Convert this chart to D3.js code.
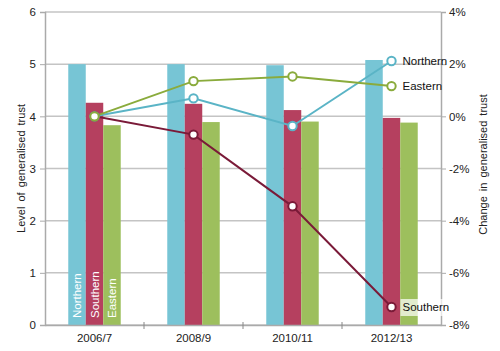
<!DOCTYPE html>
<html><head><meta charset="utf-8">
<script src="https://cdn.jsdelivr.net/npm/d3@7"></script>
<style>body{margin:0;background:#fff}svg{display:block}text{font-family:"Liberation Sans",Arial,sans-serif}</style>
</head><body><svg id="c" width="500" height="351"></svg>
<script>
const categories = ["2006/7","2008/9","2010/11","2012/13"];
const regions = ["Northern","Southern","Eastern"];
const levelNorthern = [5.00, 5.00, 4.98, 5.08];
const levelSouthern = [4.26, 4.24, 4.12, 3.97];
const levelEastern  = [3.83, 3.89, 3.90, 3.88];
const changeNorthern = [0, 0.69, -0.37, 2.12];
const changeSouthern = [0, -0.70, -3.45, -7.31];
const changeEastern  = [0, 1.35, 1.53, 1.16];
const leftTicks = [0,1,2,3,4,5,6];
const rightTicks = [-8,-6,-4,-2,0,2,4];

const barColors = {Northern:"#77c5d5", Southern:"#b5405f", Eastern:"#9dbf5d"};
const lineColors = {Northern:"#5ab4c6", Southern:"#7a1a38", Eastern:"#8aab3c"};
const levels = {Northern:levelNorthern, Southern:levelSouthern, Eastern:levelEastern};
const changes = {Northern:changeNorthern, Southern:changeSouthern, Eastern:changeEastern};

const svg = d3.select("#c");
const L=45, R=441, T=12, B=325;
const x = d3.scaleBand().domain(categories).range([L,R]).paddingInner(0.47).paddingOuter(0.235);
const xb = d3.scaleBand().domain(categories).range([L,R]);
const xs = d3.scaleBand().domain(regions).range([0,x.bandwidth()]);
const yL = d3.scaleLinear().domain([0,6]).range([B,T]);
const yR = d3.scaleLinear().domain([-8,4]).range([B,T]);

// gridlines
svg.append("g").selectAll("line").data(leftTicks).join("line")
  .attr("x1",L).attr("x2",R).attr("y1",d=>yL(d)).attr("y2",d=>yL(d))
  .attr("stroke","#c4c4c4").attr("stroke-width",1.5);

// bars
regions.forEach(r=>{
  svg.append("g").selectAll("rect").data(categories).join("rect")
    .attr("x",c=>x(c)+xs(r)).attr("width",xs.bandwidth())
    .attr("y",(c,i)=>yL(levels[r][i])).attr("height",(c,i)=>B-yL(levels[r][i]))
    .attr("fill",barColors[r]);
});
// bar inner labels (first group)
regions.forEach(r=>{
  const cx = x(categories[0])+xs(r)+xs.bandwidth()/2;
  svg.append("text").attr("transform",`translate(${cx+4},318) rotate(-90)`)
    .attr("fill","#fff").attr("font-size",11.5).text(r);
});

// axes
const axisColor="#aaa";
const gx = svg.append("g").attr("transform",`translate(0,${B})`)
  .call(d3.axisBottom(xb).tickSize(0).tickPadding(9));
gx.select(".domain").attr("stroke",axisColor).attr("stroke-width",1.5);
gx.selectAll("text").attr("font-size",11.5).attr("fill","#222");
svg.append("g").selectAll("line").data(categories.slice(1)).join("line")
  .attr("x1",c=>xb(c)).attr("x2",c=>xb(c)).attr("y1",B-3).attr("y2",B+4)
  .attr("stroke","#888");

const gl = svg.append("g").attr("transform",`translate(${L},0)`)
  .call(d3.axisLeft(yL).tickValues(leftTicks).tickSize(5).tickPadding(4).tickFormat(d3.format("d")));
gl.select(".domain").attr("stroke",axisColor).attr("stroke-width",1.5);
gl.selectAll(".tick line").attr("stroke",axisColor);
gl.selectAll("text").attr("font-size",11.5).attr("fill","#222");

const gr = svg.append("g").attr("transform",`translate(${R},0)`)
  .call(d3.axisRight(yR).tickValues(rightTicks).tickSize(5).tickPadding(3).tickFormat(d=>d+"%"));
gr.select(".domain").attr("stroke",axisColor).attr("stroke-width",1.5);
gr.selectAll(".tick line").attr("stroke",axisColor);
gr.selectAll("text").attr("font-size",11.5).attr("fill","#222");

// axis titles
svg.append("text").attr("transform",`translate(25,${(T+B)/2}) rotate(-90)`)
  .attr("text-anchor","middle").attr("font-size",11).attr("fill","#222").attr("word-spacing",2)
  .text("Level of generalised trust");
svg.append("text").attr("transform",`translate(487,${(T+B)/2-4}) rotate(-90)`)
  .attr("text-anchor","middle").attr("font-size",11).attr("fill","#222").attr("word-spacing",2)
  .text("Change in generalised trust");

// lines
const cx = c => xb(c)+xb.bandwidth()/2;
const order = ["Southern","Northern","Eastern"];
order.forEach(r=>{
  const line = d3.line().x((d,i)=>cx(categories[i])).y(d=>yR(d));
  svg.append("path").datum(changes[r]).attr("d",line)
    .attr("fill","none").attr("stroke",lineColors[r]).attr("stroke-width",2);
});
order.forEach(r=>{
  svg.append("g").selectAll("circle").data(changes[r]).join("circle")
    .attr("cx",(d,i)=>cx(categories[i])).attr("cy",d=>yR(d)).attr("r",4.2)
    .attr("fill","#fff").attr("stroke",lineColors[r]).attr("stroke-width",2);
});

// end labels
const last = categories.length-1;
const lx = cx(categories[last])+11;
svg.append("text").attr("x",lx).attr("y",yR(changeNorthern[last])+4).attr("font-size",11.5).attr("fill","#111").text("Northern");
svg.append("text").attr("x",lx).attr("y",yR(changeEastern[last])+4).attr("font-size",11.5).attr("fill","#111").text("Eastern");
svg.append("rect").attr("x",lx-2).attr("y",yR(changeSouthern[last])-8).attr("width",48).attr("height",17)
  .attr("fill","#fff").attr("opacity",0.7);
svg.append("text").attr("x",lx).attr("y",yR(changeSouthern[last])+4).attr("font-size",11.5).attr("fill","#111").text("Southern");
</script></body></html>
